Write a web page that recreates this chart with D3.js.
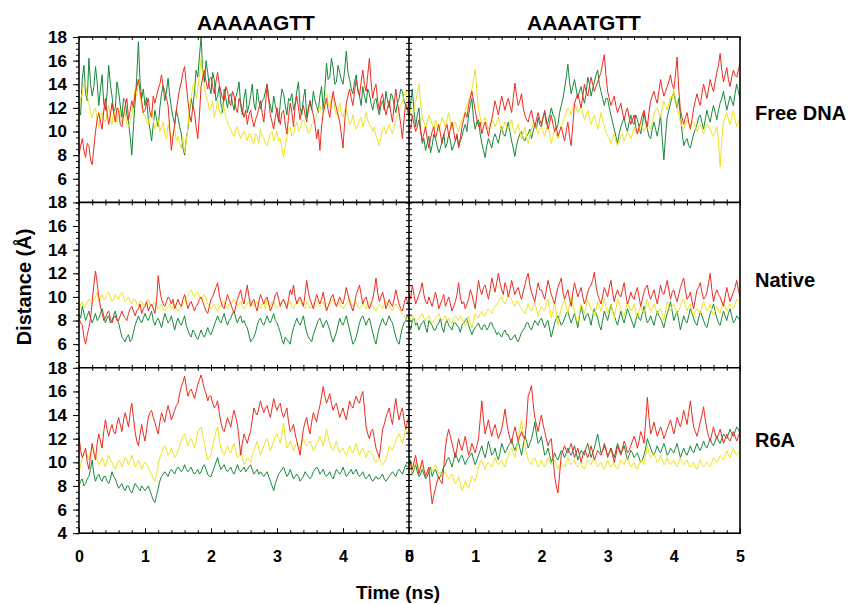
<!DOCTYPE html>
<html>
<head>
<meta charset="utf-8">
<script src="https://cdn.jsdelivr.net/npm/d3@7"></script>
<style>
body { margin: 0; background: #fff; }
text { font-family: Arial, "Liberation Sans", sans-serif; font-weight: bold; fill: #000; }
</style>
</head>
<body>
<svg id="chart" width="851" height="604"></svg>
<script>
// ---- data (distance in Angstrom, one sample every 0.025 ns over 0-5 ns) ----
var colLabels = ["AAAAAGTT", "AAAATGTT"];
var rowLabels = ["Free DNA", "Native", "R6A"];
var timeMax = 5;
var timeTicks = [0, 1, 2, 3, 4, 5];
var distTicks = [6, 8, 10, 12, 14, 16, 18];
var distTicksLast = [4, 6, 8, 10, 12, 14, 16, 18];

// Free DNA, AAAAAGTT
var freeA_green = [12.0,11.4,14.5,15.6,13.2,12.6,16.2,14.0,13.0,13.8,15.5,14.2,12.2,13.6,14.8,12.4,11.8,13.2,15.6,14.0,
  13.0,11.6,12.0,14.2,13.4,12.2,11.2,12.8,12.6,11.4,10.8,9.6,8.0,10.4,12.5,14.6,17.6,14.2,12.8,13.6,
  12.2,12.9,11.0,10.2,9.2,10.6,11.8,11.0,10.4,12.0,13.2,13.9,12.6,13.4,14.5,13.0,12.0,11.2,10.6,11.8,
  11.2,10.4,9.8,8.6,8.0,9.4,10.2,11.6,12.8,12.0,13.5,15.2,14.6,16.4,18.0,15.0,14.2,16.0,15.0,13.8,
  13.2,15.0,14.4,12.6,13.0,13.8,12.4,11.6,13.6,12.8,12.0,13.0,13.2,12.4,11.8,12.9,13.4,14.2,12.2,11.4,
  12.8,13.6,11.6,12.2,13.0,14.0,12.4,11.8,13.6,12.6,11.9,12.6,12.8,13.4,14.0,12.8,12.2,11.6,13.0,12.2,
  11.6,10.8,12.4,13.6,13.2,12.2,11.4,12.8,12.6,13.2,11.8,12.4,13.4,14.2,12.0,11.4,12.8,13.6,11.2,12.0,
  12.6,11.8,13.4,12.6,12.2,11.6,13.0,13.8,11.8,13.6,15.8,14.4,14.6,16.2,15.4,14.0,14.2,15.6,15.0,14.4,
  14.0,15.2,16.8,15.0,14.4,13.6,13.2,14.2,14.8,13.4,13.0,12.2,13.8,13.0,12.4,13.6,13.2,12.4,11.8,12.6,
  12.8,12.0,11.4,12.2,12.6,11.8,13.4,12.6,12.0,13.2,13.0,12.2,11.6,12.4,12.8,13.6,13.4,12.6,12.2,11.8,12.6];
var freeA_red = [8.0,8.8,9.4,8.4,7.8,9.0,8.8,7.6,7.2,8.6,10.0,11.0,11.6,10.8,10.2,11.8,12.8,11.6,10.6,11.4,
  12.4,11.6,10.8,12.0,11.8,10.6,10.4,11.4,12.2,12.8,11.0,11.8,12.6,12.0,13.2,13.8,14.4,13.4,12.6,11.6,
  11.8,12.4,12.8,11.6,11.2,13.0,12.4,13.0,13.6,14.0,14.8,13.8,13.4,12.8,12.2,10.2,8.4,9.6,10.6,11.8,
  12.8,13.6,14.2,15.0,15.5,14.0,12.6,11.4,10.8,12.2,11.6,10.4,9.4,11.4,13.8,14.6,15.2,14.2,13.6,14.4,
  14.6,13.8,13.2,14.2,15.0,14.0,13.4,12.8,12.6,13.8,13.4,12.6,12.2,13.4,13.0,12.0,11.6,12.8,12.4,11.8,
  11.2,11.8,10.6,11.4,11.8,11.0,10.4,11.0,11.4,12.0,12.6,11.6,10.8,12.2,14.0,12.6,11.4,10.8,10.2,11.2,
  12.0,11.2,10.6,11.6,11.8,10.6,9.8,11.2,12.4,11.6,10.4,12.2,13.0,12.0,11.0,11.8,12.2,11.4,10.8,11.8,
  12.6,12.0,11.4,10.6,9.4,10.2,8.4,10.4,11.6,12.2,12.8,11.8,11.2,12.4,13.4,12.6,12.0,11.4,10.8,9.8,
  8.6,10.8,12.4,13.0,13.6,12.8,12.2,13.4,14.4,13.6,13.0,14.2,15.2,14.0,13.4,14.8,16.2,14.2,12.8,13.6,
  14.0,12.6,11.8,12.8,13.2,12.2,11.4,12.0,12.6,11.6,10.8,12.2,13.6,12.4,11.6,10.6,9.4,11.0,12.4,11.8,11.2];
var freeA_yellow = [12.0,12.8,13.2,14.2,14.0,13.0,12.4,11.6,11.2,11.8,12.0,11.0,10.4,11.2,11.6,11.0,10.8,11.6,12.2,11.2,
  10.6,11.8,11.4,10.8,12.0,11.4,10.8,11.2,11.6,10.6,10.4,11.0,11.2,12.4,13.6,13.0,14.4,13.2,12.0,11.4,
  11.4,10.8,10.6,11.4,11.8,11.0,10.2,10.8,11.0,10.0,10.4,10.8,9.8,9.4,10.6,10.0,9.4,9.8,10.2,9.2,
  9.6,9.0,8.6,9.4,8.2,9.2,10.4,12.0,13.0,13.8,14.2,12.8,13.6,14.8,16.3,14.6,13.8,13.0,12.6,11.8,
  12.0,12.6,11.2,11.8,12.6,11.8,11.4,12.2,12.0,11.2,10.8,10.4,10.2,9.8,9.6,10.2,10.4,9.8,9.4,9.8,
  10.0,9.6,9.2,9.8,9.8,9.2,9.0,9.8,9.6,9.0,10.2,9.6,9.4,9.0,8.8,9.4,9.8,10.0,9.2,9.6,
  10.0,9.2,9.4,8.6,7.8,8.8,9.6,10.2,10.4,9.6,9.8,10.4,10.8,10.0,10.2,10.8,11.0,10.6,10.4,9.8,
  10.0,10.6,10.8,11.2,11.4,11.8,12.2,11.6,11.6,12.4,13.2,12.4,12.0,13.0,12.8,12.0,11.4,11.8,12.4,11.6,
  11.2,11.8,12.0,11.2,10.6,10.8,11.4,10.6,10.2,10.6,11.0,11.2,10.4,10.8,11.6,11.0,10.6,10.4,10.0,10.4,
  9.6,9.2,8.8,9.6,10.2,10.4,9.8,10.2,10.6,10.2,9.8,10.4,11.0,11.4,11.8,12.2,12.6,13.0,13.4,12.4,11.6];

// Free DNA, AAAATGTT
var freeB_green = [11.2,12.4,13.6,11.8,10.4,11.4,12.0,10.2,9.0,9.4,8.4,9.0,9.6,8.2,8.8,9.8,9.4,8.8,8.2,8.6,
  9.2,9.8,8.6,9.0,9.8,9.2,8.4,8.8,9.2,9.6,8.8,9.2,9.6,10.2,10.6,10.0,11.4,12.2,12.8,11.0,
  10.2,10.8,11.0,9.8,9.0,8.4,7.8,8.8,9.4,9.0,8.6,9.4,9.8,9.4,9.0,9.8,10.4,9.8,9.6,10.2,
  10.8,10.0,9.2,8.6,7.9,8.8,9.4,9.8,10.0,9.4,9.2,9.6,9.8,10.2,9.4,10.0,10.6,10.2,11.2,10.6,
  10.4,11.2,11.6,10.6,10.8,11.4,12.0,11.4,11.2,10.2,10.6,11.6,12.2,12.8,13.6,14.6,15.7,14.2,13.2,13.8,
  14.4,13.6,12.8,13.4,13.8,13.0,12.4,13.2,14.6,14.0,13.0,13.6,14.2,14.8,15.2,14.0,13.4,12.8,12.2,12.8,
  12.8,12.0,11.4,10.8,10.2,9.6,9.0,9.8,10.4,10.8,11.2,10.4,10.0,10.8,11.4,10.8,10.6,11.4,11.0,10.4,
  9.8,10.6,11.6,10.8,10.2,9.6,9.4,10.2,10.8,10.2,9.6,10.4,11.4,9.4,7.6,9.6,11.2,11.8,12.4,13.0,
  13.2,12.6,12.0,12.8,11.4,10.0,8.8,9.2,9.4,8.8,8.6,9.2,9.8,10.2,10.6,11.2,11.4,10.8,10.2,11.0,
  11.8,11.2,10.8,11.6,12.2,11.6,11.0,11.8,12.4,12.8,13.4,12.6,11.8,12.4,13.0,12.6,12.2,13.2,14.0,13.4,12.8];
var freeB_red = [10.6,10.2,11.4,10.6,10.0,10.4,11.0,10.0,9.2,9.8,10.4,9.4,8.6,9.4,10.0,10.4,9.4,10.0,10.6,9.8,
  9.0,9.6,10.2,10.6,9.6,10.2,10.8,10.0,9.2,9.8,8.6,9.4,10.4,11.0,11.6,11.2,12.2,12.8,13.4,12.6,
  11.8,11.0,10.4,10.8,9.8,10.4,10.8,10.2,9.6,10.4,11.0,11.8,12.6,12.0,11.4,12.2,13.0,12.4,11.8,12.4,
  12.8,12.2,11.6,12.8,14.1,13.0,12.2,12.6,13.2,12.0,11.4,11.0,10.8,11.4,11.8,11.0,10.4,11.0,11.6,11.0,
  10.6,11.2,11.8,11.0,10.2,10.8,11.4,10.6,10.0,10.4,9.6,10.0,10.4,9.8,9.2,10.0,10.8,9.6,8.8,10.6,
  12.4,12.8,13.2,12.6,12.0,13.0,14.0,13.4,13.0,13.8,14.6,14.0,13.4,13.8,14.2,14.6,15.0,15.8,16.5,14.8,
  13.4,12.8,12.2,12.6,13.0,12.2,11.6,12.0,12.4,11.6,11.0,11.6,12.0,11.2,10.6,11.0,11.4,10.4,9.8,10.4,
  10.8,11.4,11.8,11.0,10.4,11.6,12.6,13.0,13.4,12.8,12.4,13.4,14.4,13.6,13.0,13.4,13.8,14.2,14.8,14.0,
  13.6,14.8,16.3,13.6,11.8,11.2,10.6,11.2,11.6,10.8,10.2,11.0,12.0,12.6,13.2,12.6,12.2,13.2,14.0,13.4,
  12.8,13.6,14.4,13.8,13.4,14.2,15.0,15.6,16.6,15.2,14.2,14.8,15.4,14.4,13.8,14.6,15.2,14.8,14.6,15.2,15.8];
var freeB_yellow = [12.2,11.6,11.0,11.8,12.6,13.2,14.0,12.4,11.2,10.8,10.2,10.8,11.4,11.0,10.6,10.2,11.0,10.4,10.0,10.6,
  11.2,10.8,10.4,11.0,11.6,10.8,10.2,10.6,10.8,10.4,10.0,10.6,11.0,11.4,11.8,12.2,12.6,13.0,13.6,14.4,
  15.3,13.4,12.0,11.2,10.6,10.8,11.2,10.6,10.2,10.6,11.0,10.8,10.4,10.8,11.2,10.6,10.0,10.4,10.8,10.4,
  10.2,10.6,11.0,10.2,9.8,10.2,10.6,10.0,9.4,9.8,10.4,9.6,9.0,9.6,10.2,10.6,10.8,10.2,9.8,10.2,
  10.4,10.0,9.6,10.2,10.6,9.8,9.0,9.6,10.2,9.8,9.4,10.0,10.6,10.8,11.2,11.6,12.0,11.8,11.4,12.0,
  12.4,12.0,11.6,11.8,12.2,11.6,11.0,11.4,11.8,11.2,10.6,11.0,11.4,10.8,10.2,10.8,11.6,11.0,10.4,10.0,
  9.6,9.4,9.0,9.4,9.8,9.2,8.8,9.2,9.6,9.8,9.2,9.6,10.0,9.8,9.4,9.8,10.4,10.0,9.8,10.2,
  10.6,10.4,10.0,10.4,10.8,10.6,10.2,10.8,11.4,11.8,12.0,11.6,11.2,12.0,12.6,12.2,11.8,12.4,13.0,12.8,
  13.5,12.8,12.2,11.4,10.8,10.4,10.2,10.6,11.0,10.6,10.4,10.8,10.8,10.4,10.0,10.4,10.6,10.2,9.8,10.2,
  10.6,10.4,10.2,9.8,9.6,10.0,10.4,9.2,7.0,9.4,10.8,11.2,11.6,11.0,10.6,11.2,11.8,11.0,10.4,10.8,11.2];

// Native, AAAAAGTT
var nativeA_green = [8.6,8.2,9.2,8.6,8.0,8.4,8.8,8.2,7.8,8.2,8.6,8.0,8.2,8.6,9.0,8.4,7.8,8.2,8.4,7.8,
  8.0,8.4,8.8,8.2,7.8,7.2,6.6,6.4,6.2,6.6,6.8,6.2,6.4,7.0,7.6,8.0,8.4,8.0,7.8,8.2,
  8.6,8.2,8.0,8.4,8.8,8.0,7.6,8.0,8.2,7.8,7.4,8.0,8.6,8.2,7.8,8.0,8.4,7.8,7.2,7.8,
  8.2,7.8,7.6,8.0,8.4,7.6,7.2,6.8,6.6,7.2,7.0,6.6,6.4,6.8,7.2,6.8,6.6,7.0,7.4,7.0,
  6.8,7.2,7.6,8.0,8.4,8.0,7.8,8.2,8.6,8.0,7.6,8.0,8.2,8.6,8.8,8.2,7.8,8.2,8.4,7.8,
  8.0,7.6,7.4,6.8,6.2,6.4,6.6,7.0,7.6,8.0,8.2,7.8,7.6,8.0,8.4,8.0,7.8,8.2,8.6,8.0,
  7.8,7.4,7.0,6.4,6.0,6.6,6.4,6.2,6.0,6.8,7.4,7.8,8.2,7.8,7.6,8.0,8.4,7.6,7.0,6.6,
  6.4,6.2,6.8,7.2,7.6,8.0,8.2,7.8,7.4,7.8,8.0,7.6,7.2,6.6,6.2,6.6,7.0,7.6,8.2,7.8,
  7.6,8.0,8.4,7.8,7.2,6.6,6.0,6.2,6.6,7.2,7.8,8.2,8.4,8.0,7.6,8.0,8.2,7.6,7.0,6.4,
  6.0,6.8,7.4,7.8,8.2,7.8,7.6,8.0,8.4,8.0,7.8,7.2,6.6,6.2,6.0,6.8,7.4,7.8,8.0,8.4,8.2];
var nativeA_red = [8.2,7.8,7.6,6.6,6.0,6.8,7.4,8.2,9.6,11.0,12.2,11.2,10.0,9.2,8.6,8.0,8.2,8.6,8.8,8.2,
  7.8,8.2,8.4,8.0,8.0,8.4,8.8,8.4,8.2,8.0,8.6,9.0,9.2,8.8,8.4,8.8,9.0,9.4,8.6,9.0,
  9.2,9.6,8.8,9.2,9.4,9.0,8.6,9.6,11.8,10.6,9.8,9.4,9.2,9.6,10.0,9.8,9.4,9.8,9.0,9.4,
  9.8,9.4,9.2,9.8,10.2,9.6,9.0,9.4,9.6,9.2,8.8,9.2,9.4,9.8,10.0,9.6,9.2,8.8,8.6,9.2,
  9.8,10.0,10.4,10.8,11.2,10.2,9.6,9.2,9.0,9.6,10.2,9.8,9.4,9.0,8.6,9.2,9.8,10.2,10.6,9.8,
  9.4,10.2,11.0,10.0,9.2,9.6,9.8,9.2,8.8,9.6,10.2,9.8,9.4,9.8,10.0,9.4,8.8,9.2,9.6,10.2,
  10.4,9.8,9.2,9.6,9.8,9.4,9.0,9.8,10.6,10.2,11.0,10.0,9.4,9.8,10.0,9.6,9.2,10.2,11.4,10.4,
  9.8,9.4,9.0,9.6,10.2,9.8,9.4,9.8,10.4,9.6,8.8,9.2,9.6,10.0,10.2,9.6,9.2,9.6,10.0,9.6,
  9.4,10.0,10.8,10.2,9.6,9.2,8.8,9.4,10.2,10.6,11.0,10.2,9.4,9.8,10.0,9.4,9.0,9.4,9.8,10.6,
  11.6,10.4,9.6,10.0,10.4,9.8,9.0,9.4,9.8,9.4,9.2,9.8,10.6,10.0,9.4,9.0,8.8,9.4,10.0,9.6,9.2];
var nativeA_yellow = [9.0,9.4,9.6,9.0,9.2,9.6,9.8,9.6,9.4,9.8,10.0,10.4,9.6,9.8,10.2,9.8,9.8,10.2,10.4,10.0,
  9.6,9.8,10.2,10.0,9.8,10.2,10.4,10.0,9.6,9.8,10.0,9.6,9.4,9.8,9.8,9.4,9.2,9.6,9.6,9.2,
  9.4,9.6,9.8,9.4,9.2,9.4,9.6,9.2,9.0,9.2,9.4,9.0,8.8,9.0,9.2,9.4,9.0,9.2,9.4,9.0,
  8.8,9.0,9.2,9.4,9.6,10.0,10.2,10.4,10.6,10.2,10.0,10.4,10.4,10.0,9.8,10.0,10.2,9.8,9.4,9.2,
  9.0,9.2,9.4,9.0,8.8,9.2,9.2,9.6,9.6,9.2,9.0,9.4,9.4,9.6,9.8,9.4,9.2,9.4,9.6,9.2,
  9.0,9.2,9.4,9.6,9.8,9.4,9.2,9.4,9.6,9.2,9.0,9.4,9.4,9.0,9.8,9.4,9.2,9.6,9.6,9.2,
  9.0,9.2,9.4,9.6,9.8,9.4,9.2,9.4,9.6,9.2,9.0,9.4,9.4,9.6,9.8,9.4,9.2,9.0,9.6,9.4,
  9.0,9.2,9.4,9.6,9.8,9.4,9.2,9.4,9.6,9.2,9.0,9.2,9.4,9.6,9.8,9.4,9.2,9.4,9.6,9.2,
  9.0,9.2,9.4,9.6,9.8,9.4,9.2,9.4,9.6,9.2,9.0,9.2,9.4,9.2,9.0,9.4,9.6,9.4,9.2,9.0,
  8.8,9.2,9.4,9.2,9.0,9.4,9.6,9.4,9.2,9.0,8.8,9.2,9.4,9.2,9.0,8.8,8.6,8.4,8.2,8.0,8.0];

// Native, AAAATGTT
var nativeB_green = [7.6,7.2,8.0,8.2,7.6,7.8,7.2,7.6,7.8,8.0,7.4,7.0,8.0,7.8,7.6,7.2,7.2,7.6,7.8,8.2,
  7.4,7.0,7.8,8.0,7.6,7.4,7.2,7.8,7.8,7.6,7.4,7.0,7.6,7.8,8.0,8.2,7.6,7.2,6.8,7.2,
  7.4,7.6,7.8,7.4,7.2,7.6,7.6,7.2,7.4,7.8,7.8,7.4,7.2,6.8,7.0,6.8,6.6,7.0,7.2,6.8,
  6.8,6.4,6.4,6.6,6.8,6.4,6.2,6.6,7.0,7.2,7.4,7.8,7.8,7.4,7.2,7.6,8.0,7.8,7.6,8.0,
  8.2,7.8,7.4,7.8,8.0,7.2,6.6,7.2,7.8,8.2,8.4,8.0,7.6,7.8,8.2,8.6,8.8,8.2,7.8,8.2,
  8.6,8.0,7.4,8.4,9.2,8.6,8.0,8.4,8.6,8.2,7.6,8.4,9.0,8.6,8.2,7.6,7.2,8.0,8.8,8.4,
  8.0,8.6,9.4,8.8,8.4,8.0,7.6,8.2,8.8,8.2,7.8,8.4,9.0,8.6,8.2,7.8,7.4,8.0,8.6,8.2,
  8.0,8.6,9.2,8.4,7.8,8.0,8.4,8.0,7.6,8.2,8.8,8.4,8.2,7.8,7.4,8.0,8.6,9.0,9.6,8.8,
  8.0,8.4,8.8,8.0,7.2,7.8,8.4,8.0,7.8,8.4,9.0,8.6,8.2,7.8,7.6,8.2,8.8,8.4,8.0,7.6,
  7.4,8.0,8.6,9.0,9.4,8.8,8.2,7.8,7.6,8.2,8.8,8.4,8.0,8.6,9.0,8.4,7.8,8.0,8.4,8.2,8.0];
var nativeB_red = [10.4,9.8,11.0,10.2,9.4,9.8,10.2,10.6,11.2,10.2,9.6,9.4,10.0,9.6,9.2,9.8,10.4,9.8,9.0,9.4,
  9.8,10.2,9.2,9.6,10.0,9.4,8.8,9.2,9.6,10.2,11.2,10.0,9.4,9.6,9.0,9.4,9.8,10.6,10.2,9.6,
  9.0,10.2,11.4,10.6,10.2,10.8,11.0,10.4,9.8,10.6,11.6,11.0,10.4,11.2,12.0,11.2,10.6,10.2,11.2,10.8,
  10.0,10.6,11.4,10.8,10.2,10.6,10.8,10.2,9.8,10.4,11.0,11.6,12.0,11.0,10.4,10.0,9.6,10.4,11.2,10.6,
  10.6,10.2,9.8,10.6,11.4,10.8,10.2,9.8,9.4,10.2,10.8,11.2,11.6,10.4,9.8,10.2,10.6,9.8,9.2,10.4,
  11.2,10.6,10.0,10.4,10.8,10.0,9.4,9.8,10.4,10.8,11.0,11.4,12.1,11.0,10.2,9.8,9.4,10.0,10.8,10.4,
  10.0,10.8,11.4,10.4,9.6,10.2,10.6,10.2,10.0,10.6,11.2,10.2,9.4,9.8,10.4,10.0,9.8,10.4,10.8,10.0,
  9.2,9.8,10.4,10.8,11.0,10.2,9.8,10.2,10.6,10.0,9.4,10.2,11.0,10.4,10.2,10.8,11.4,10.6,9.8,10.4,
  10.6,10.0,9.6,10.2,10.8,11.2,11.6,10.6,9.8,10.0,10.4,9.6,9.0,9.8,10.6,10.8,11.2,10.4,9.8,10.0,
  10.4,11.2,12.0,10.6,9.6,10.2,10.6,10.2,10.0,9.6,9.2,10.0,10.8,10.2,9.6,10.0,10.4,10.8,11.4,10.6,10.0];
var nativeB_yellow = [8.0,8.2,8.4,8.0,7.8,8.0,8.2,8.4,8.6,8.2,8.0,8.2,8.4,8.0,7.8,8.0,8.2,8.4,8.6,8.2,
  8.0,8.2,8.4,8.0,8.2,7.8,7.8,8.2,8.4,8.2,8.0,8.4,8.2,7.8,7.6,8.0,8.4,7.8,7.4,8.0,
  8.6,8.4,8.2,8.6,8.8,8.4,8.4,8.8,9.0,8.8,8.6,9.0,9.2,9.4,9.6,9.8,10.0,9.6,9.4,9.8,
  10.2,10.0,9.8,9.4,9.2,9.6,9.6,9.2,9.0,8.8,8.6,9.0,9.4,9.0,8.8,9.2,9.6,9.0,8.4,8.8,
  9.2,9.0,8.8,9.4,9.8,9.0,8.2,8.8,9.6,8.6,7.6,8.4,9.0,9.4,9.8,9.2,8.6,9.4,10.0,9.4,
  8.8,8.2,7.8,8.6,9.4,9.0,8.6,9.2,9.8,9.4,9.0,8.8,8.4,9.0,9.6,9.2,8.8,9.4,9.8,9.2,
  8.6,9.0,9.4,8.8,8.2,9.0,9.8,9.4,9.0,8.6,8.4,9.0,9.6,9.2,8.8,9.0,9.4,8.8,8.2,8.8,
  9.2,8.8,8.6,9.2,9.8,9.2,8.8,9.0,9.4,9.0,8.6,8.8,9.0,8.6,8.0,8.8,9.6,9.2,8.8,9.2,
  9.4,9.0,8.6,8.8,9.2,9.6,9.8,9.2,8.8,9.2,9.4,8.8,8.4,8.8,9.0,8.8,8.6,9.2,9.6,9.2,
  8.8,9.0,9.4,8.8,8.4,8.8,9.2,8.8,8.6,9.2,9.6,9.2,8.8,9.2,9.4,9.2,9.0,9.4,9.8,9.6,9.4];

// R6A, AAAAAGTT
var r6aA_green = [8.0,8.4,8.6,8.0,8.2,8.6,8.8,9.4,10.2,9.0,8.4,8.8,9.0,8.6,8.4,8.8,8.8,8.4,8.2,8.6,
  9.2,8.8,8.6,8.2,7.8,8.0,8.2,7.8,7.6,8.0,8.0,7.6,7.4,7.8,8.2,8.0,7.8,7.6,8.0,7.8,
  7.6,7.8,8.0,7.6,7.2,6.8,6.6,7.2,7.8,8.4,8.8,9.0,9.2,9.0,8.8,9.2,9.4,9.2,9.0,9.4,
  9.6,9.4,9.2,9.4,9.8,9.4,9.2,9.4,9.6,9.2,9.0,9.2,9.4,9.0,9.2,9.6,9.8,9.4,9.0,8.8,
  8.8,9.2,9.6,10.0,10.4,9.8,9.4,9.6,9.8,9.4,9.2,9.4,9.6,9.2,9.0,9.4,9.8,9.4,9.2,9.4,
  9.6,9.2,9.4,9.6,9.8,9.4,9.0,9.2,9.4,9.0,9.2,9.0,8.8,9.0,9.2,8.8,8.4,8.0,7.6,8.2,
  8.6,9.0,9.2,9.4,9.6,9.2,8.8,9.0,9.4,9.0,8.6,8.8,9.0,8.8,8.4,8.6,8.8,9.2,9.0,8.8,
  8.6,8.8,9.2,9.4,9.6,9.4,9.0,9.2,9.4,9.0,8.8,9.0,9.2,8.8,8.6,9.0,9.4,9.2,9.0,9.2,
  9.6,9.2,8.8,9.0,9.2,9.4,9.0,9.2,9.4,9.0,8.8,9.0,9.2,8.8,8.6,8.8,9.0,8.6,8.4,8.6,
  8.8,8.6,8.6,8.8,9.0,8.6,8.4,8.6,8.8,9.0,9.2,9.0,8.8,9.2,9.4,9.2,9.0,9.4,9.8,9.6,9.6];
var r6aA_red = [12.2,11.0,10.4,10.8,11.2,10.0,9.4,10.6,11.6,10.8,10.2,11.6,12.4,11.8,11.2,12.6,13.6,12.8,12.2,12.8,
  13.2,12.6,12.4,13.2,13.8,13.2,12.6,13.6,14.2,13.6,13.0,14.2,15.0,13.8,12.6,11.8,11.4,12.4,13.2,12.4,
  11.8,12.8,13.8,14.2,14.4,13.8,13.4,12.8,12.4,13.4,14.2,13.8,13.4,14.2,14.8,14.2,13.6,14.0,14.4,14.8,
  15.0,15.8,16.4,16.8,17.3,16.4,15.6,16.0,16.2,15.8,15.4,16.0,16.6,17.0,17.4,16.8,16.2,15.8,15.2,15.6,
  15.6,15.0,14.6,14.8,15.2,14.2,13.4,12.8,12.6,13.2,13.8,13.4,13.0,13.8,14.4,13.8,13.2,12.0,10.6,11.6,
  12.4,12.0,11.6,12.2,12.6,13.6,14.6,14.2,14.0,14.6,15.2,14.6,14.2,14.6,14.8,14.2,13.8,14.6,15.4,14.8,
  14.4,14.8,15.0,14.2,13.8,14.2,14.6,13.4,12.6,12.8,13.2,12.4,11.8,11.2,10.6,11.8,12.8,13.4,13.8,13.0,
  12.4,13.4,14.2,13.8,13.4,14.2,14.8,15.6,16.4,15.6,15.0,15.4,15.8,15.0,14.4,14.8,15.0,14.4,13.8,14.2,
  14.6,14.0,13.6,14.4,15.2,14.8,14.6,15.2,15.6,15.2,15.0,15.6,16.0,14.6,13.0,12.4,12.0,12.6,12.8,12.0,
  11.2,10.8,10.4,11.6,12.8,13.2,13.8,14.2,14.6,13.8,13.2,14.4,15.4,14.4,13.6,14.2,14.6,13.6,12.8,13.4,14.0];
var r6aA_yellow = [9.0,9.8,10.4,10.8,11.0,10.6,10.2,10.8,11.4,11.0,10.6,10.2,9.8,10.0,10.4,10.0,9.6,10.2,10.6,10.2,
  10.0,9.6,9.4,9.8,10.2,10.0,9.6,10.0,10.4,10.2,9.8,10.2,10.6,10.2,9.6,9.8,10.2,9.8,9.4,9.8,
  10.0,9.8,9.6,9.2,9.0,8.6,8.4,9.0,9.8,10.4,10.8,11.2,11.4,11.0,10.6,10.8,11.2,10.8,10.4,10.6,
  11.0,11.4,11.8,12.2,12.4,11.8,11.4,11.8,12.0,11.6,11.2,11.8,12.6,12.8,13.0,12.2,11.6,10.8,10.2,10.4,
  10.6,11.4,12.0,12.6,13.0,12.0,11.2,10.8,10.6,11.0,11.4,11.0,10.8,11.2,11.6,11.0,10.4,10.6,11.0,10.4,
  9.8,10.0,10.4,10.2,10.0,10.6,11.0,11.4,11.8,11.2,10.6,11.0,11.4,11.8,12.0,11.4,11.0,11.4,11.8,12.2,
  12.4,12.0,11.6,12.4,13.3,12.2,11.2,11.4,11.8,11.4,11.0,11.4,11.6,11.4,11.2,11.6,12.0,11.6,11.4,11.6,
  11.8,11.4,11.0,11.2,11.6,11.8,12.2,11.8,11.4,12.0,12.8,12.2,11.6,11.2,11.0,11.4,11.8,11.2,10.8,11.0,
  11.2,10.8,10.6,11.0,11.4,11.0,10.8,11.2,11.6,11.0,10.6,11.0,11.2,10.8,10.4,10.8,11.0,10.8,10.6,10.2,
  10.0,10.2,10.4,10.0,9.8,10.0,10.2,10.8,11.4,11.2,11.0,11.4,11.8,12.2,12.4,12.0,11.6,12.2,12.8,12.6,12.2];

// R6A, AAAATGTT
var r6aB_green = [9.6,10.2,9.0,9.4,9.8,9.2,8.8,9.0,9.4,9.0,8.6,8.8,9.2,9.6,8.8,9.2,9.4,9.0,8.6,8.8,
  9.2,9.6,9.8,10.2,10.4,10.0,9.6,10.2,10.8,10.4,10.0,10.4,10.6,10.2,9.8,10.2,10.4,10.6,10.8,10.2,
  9.8,10.2,10.6,11.0,11.4,10.8,10.4,11.0,11.8,11.2,10.6,10.8,11.2,10.6,10.2,10.8,11.6,11.2,10.8,11.0,
  11.4,11.6,12.0,11.4,11.0,11.4,11.8,11.2,10.6,11.4,12.2,11.8,11.2,11.6,12.0,12.6,13.4,12.4,11.6,11.8,
  12.2,11.4,10.6,10.8,11.2,10.6,10.0,10.4,10.8,10.4,10.2,10.6,11.0,10.8,10.4,10.8,11.2,10.8,10.6,11.0,
  11.4,10.8,10.2,10.6,11.0,10.8,10.6,11.2,11.6,11.0,10.4,10.8,11.2,11.8,12.4,11.6,10.8,11.0,11.4,11.0,
  10.6,10.8,11.2,10.8,10.4,11.0,11.6,11.2,10.8,11.0,11.4,10.8,10.2,10.6,11.0,10.8,10.4,10.6,10.8,10.4,
  10.0,10.2,10.6,11.2,12.0,11.6,11.2,10.8,10.6,11.0,11.4,11.0,10.8,11.2,11.6,11.2,10.6,10.8,11.2,11.0,
  10.8,11.2,11.6,11.0,10.4,10.8,11.2,10.8,10.6,11.0,11.4,11.0,10.8,11.2,11.6,11.2,11.0,11.4,11.8,11.4,
  11.2,11.6,12.0,11.6,11.4,11.8,12.2,11.8,11.6,12.0,12.4,12.2,12.0,12.4,12.8,12.4,12.2,12.6,13.0,12.8,12.4];
var r6aB_red = [10.2,9.8,9.4,10.0,10.6,9.8,9.0,9.6,10.2,9.4,8.8,9.2,9.6,7.8,6.5,7.2,7.8,8.4,8.8,8.4,
  8.2,9.6,11.2,12.2,12.8,12.2,11.6,11.0,10.4,11.2,12.0,11.4,11.0,11.6,12.2,11.4,10.6,11.0,11.6,11.2,
  10.8,11.4,12.0,13.6,15.2,13.6,12.4,13.0,13.6,12.8,12.2,12.8,13.2,12.6,12.0,12.4,12.8,13.6,14.5,13.4,
  12.6,12.0,11.6,12.4,13.0,12.4,11.8,12.2,12.6,12.2,12.0,13.4,15.6,16.0,16.5,15.0,13.8,13.2,12.6,13.4,
  14.0,13.2,12.6,12.0,11.4,11.8,12.0,10.4,8.8,8.0,7.4,9.0,10.6,11.0,11.4,11.0,10.8,11.2,11.6,11.0,
  10.4,10.8,11.2,10.6,10.0,10.6,11.0,10.8,10.4,10.8,11.4,10.8,10.2,10.6,11.0,10.8,10.6,11.0,11.6,11.2,
  10.4,10.8,11.2,10.6,10.0,10.6,11.4,11.0,10.6,11.2,11.8,11.4,10.8,11.0,11.4,11.8,12.2,11.8,11.2,11.8,
  12.6,12.2,11.6,13.4,15.5,13.8,12.4,12.8,13.4,12.8,12.2,12.6,13.0,12.6,12.0,12.4,12.8,13.2,13.6,13.0,
  12.4,13.0,13.8,13.4,13.0,13.6,14.4,13.8,13.2,14.2,15.2,14.0,13.0,12.6,12.2,12.8,13.4,14.0,14.7,13.6,
  12.8,12.2,11.8,12.4,13.0,12.4,12.0,12.4,12.8,12.2,11.6,12.0,12.4,12.0,11.8,12.2,12.6,12.2,11.8,12.2,12.6];
var r6aB_yellow = [9.8,9.4,9.2,9.6,10.0,9.8,9.4,9.6,9.8,9.4,9.0,9.2,9.6,9.4,9.2,9.6,9.8,9.4,9.0,9.2,
  8.8,9.0,9.2,8.8,8.6,8.8,9.0,8.6,8.2,8.4,8.8,8.2,7.6,8.0,8.4,8.0,7.8,8.4,8.8,8.6,
  8.4,9.0,9.6,10.0,10.2,9.8,9.4,9.8,10.0,9.8,9.6,10.0,10.4,10.0,9.8,10.0,10.2,9.8,9.6,10.2,
  10.6,11.0,11.2,10.8,10.4,11.2,12.0,12.8,13.6,12.4,11.4,10.8,10.2,10.0,9.8,10.2,10.4,10.0,9.6,9.8,
  10.2,9.8,9.6,10.0,10.4,10.0,9.8,10.0,10.2,9.8,9.4,9.8,10.0,9.8,9.6,10.0,10.4,10.0,9.8,10.0,
  10.2,9.8,9.6,9.8,10.0,9.6,9.4,9.8,10.2,10.0,9.8,10.2,10.4,10.0,9.6,9.8,10.0,9.6,9.4,9.8,
  10.2,9.8,9.6,9.8,10.0,9.6,9.4,9.8,10.2,10.0,9.8,10.2,10.4,10.0,9.6,9.8,10.0,9.6,9.4,9.8,
  10.2,10.0,9.8,10.6,11.4,10.8,10.4,10.6,10.8,10.4,10.0,10.2,10.6,10.2,9.8,10.0,10.4,10.0,9.8,10.0,
  10.2,9.8,9.6,10.0,10.4,10.0,9.8,10.0,10.2,9.8,9.6,9.8,10.0,9.6,9.4,9.8,10.2,9.8,9.6,9.8,
  10.0,9.8,9.6,10.0,10.4,10.2,10.0,10.2,10.6,10.4,10.2,10.6,11.0,10.6,10.4,10.8,11.2,10.8,10.6,10.8,11.0];

var panels = [
  [{green: freeA_green, yellow: freeA_yellow, red: freeA_red}, {green: freeB_green, yellow: freeB_yellow, red: freeB_red}],
  [{green: nativeA_green, yellow: nativeA_yellow, red: nativeA_red}, {green: nativeB_green, yellow: nativeB_yellow, red: nativeB_red}],
  [{green: r6aA_green, yellow: r6aA_yellow, red: r6aA_red}, {green: r6aB_green, yellow: r6aB_yellow, red: r6aB_red}]
];
var drawOrder = ["green", "yellow", "red"];
var lineColors = {green: "#17883a", yellow: "#eee31b", red: "#ec2b1f"};

// ---- layout ----
var svg = d3.select("#chart");
var colX = [79, 409, 740];
var top0 = 37, rowH = 165.4;

function xScale(c) { return d3.scaleLinear().domain([0, timeMax]).range([colX[c], colX[c + 1]]); }
function yScale(r) { return d3.scaleLinear().domain([4, 18]).range([top0 + (r + 1) * rowH, top0 + r * rowH]); }

var minorX = d3.range(0, 5.001, 0.2);
var minorY = d3.range(4, 18.001, 0.5);

for (var r = 0; r < 3; r++) {
  for (var c = 0; c < 2; c++) {
    var x = xScale(c), y = yScale(r);
    var id = "clip" + r + c;
    svg.append("clipPath").attr("id", id).append("rect")
       .attr("x", colX[c]).attr("y", top0 + r * rowH)
       .attr("width", colX[c + 1] - colX[c]).attr("height", rowH);
    var g = svg.append("g").attr("clip-path", "url(#" + id + ")");
    drawOrder.forEach(function(key) {
      var vals = panels[r][c][key];
      var step = timeMax / (vals.length - 1);
      var line = d3.line().x(function(d, i) { return x(i * step); }).y(function(d) { return y(d); });
      g.append("path").datum(vals)
       .attr("d", line)
       .attr("fill", "none")
       .attr("stroke", lineColors[key])
       .attr("stroke-width", 1)
       .attr("stroke-linejoin", "round");
    });

    // inward time ticks on top and bottom edge of every panel
    var tTop = svg.append("g").attr("transform", "translate(0," + (top0 + r * rowH) + ")")
      .call(d3.axisTop(x).tickValues(minorX).tickSizeInner(-3).tickSizeOuter(0).tickFormat(""));
    var tBot = svg.append("g").attr("transform", "translate(0," + (top0 + (r + 1) * rowH) + ")")
      .call(d3.axisBottom(x).tickValues(minorX).tickSizeInner(-3).tickSizeOuter(0).tickFormat(""));
    [tTop, tBot].forEach(function(a) {
      a.select(".domain").remove();
      a.selectAll("line").attr("stroke", "#000").attr("stroke-width", 1);
    });

    // distance ticks on left edge of panel
    var yt = svg.append("g").attr("transform", "translate(" + colX[c] + ",0)")
      .call(d3.axisLeft(y).tickValues(minorY).tickSizeInner(3).tickSizeOuter(0).tickFormat(""));
    yt.select(".domain").remove();
    yt.selectAll("line").attr("stroke", "#000").attr("stroke-width", 1);
    if (c == 1) {
      var yt2 = svg.append("g").attr("transform", "translate(" + colX[c] + ",0)")
        .call(d3.axisRight(y).tickValues(minorY).tickSizeInner(3).tickSizeOuter(0).tickFormat(""));
      yt2.select(".domain").remove();
      yt2.selectAll("line").attr("stroke", "#000").attr("stroke-width", 1);
    }
  }

  // distance labels
  var yl = svg.append("g").attr("transform", "translate(" + colX[0] + ",0)")
    .call(d3.axisLeft(yScale(r)).tickValues(r == 2 ? distTicksLast : distTicks)
      .tickSizeInner(6).tickSizeOuter(0).tickPadding(6).tickFormat(d3.format("d")));
  yl.select(".domain").remove();
  yl.selectAll("line").attr("stroke", "#000").attr("stroke-width", 1);
  yl.selectAll("text").attr("font-size", 17).style("font-family", "Arial, 'Liberation Sans', sans-serif").style("font-weight", "bold");

  svg.append("text").attr("x", 755).attr("y", [120, 287, 447][r])
     .attr("font-size", 20).text(rowLabels[r]);
}

// time labels
for (var c = 0; c < 2; c++) {
  var xl = svg.append("g").attr("transform", "translate(0," + (top0 + 3 * rowH) + ")")
    .call(d3.axisBottom(xScale(c)).tickValues(timeTicks).tickSizeInner(-5).tickSizeOuter(0).tickPadding(17).tickFormat(d3.format("d")));
  xl.select(".domain").remove();
  xl.selectAll("line").attr("stroke", "#000").attr("stroke-width", 1);
  xl.selectAll("text").attr("font-size", 16).style("font-family", "Arial, 'Liberation Sans', sans-serif").style("font-weight", "bold");
}

// frame
var bottom = top0 + 3 * rowH;
svg.append("rect").attr("x", colX[0]).attr("y", top0).attr("width", colX[2] - colX[0]).attr("height", bottom - top0)
   .attr("fill", "none").attr("stroke", "#000").attr("stroke-width", 1.6);
svg.append("line").attr("x1", colX[1]).attr("x2", colX[1]).attr("y1", top0).attr("y2", bottom)
   .attr("stroke", "#000").attr("stroke-width", 1.6);
[1, 2].forEach(function(k) {
  svg.append("line").attr("x1", colX[0]).attr("x2", colX[2]).attr("y1", top0 + k * rowH).attr("y2", top0 + k * rowH)
     .attr("stroke", "#000").attr("stroke-width", 1.6);
});

// titles
svg.append("text").attr("x", 256).attr("y", 30).attr("text-anchor", "middle").attr("font-size", 21).text(colLabels[0]);
svg.append("text").attr("x", 584).attr("y", 30).attr("text-anchor", "middle").attr("font-size", 21).text(colLabels[1]);
svg.append("text").attr("x", 398).attr("y", 599).attr("text-anchor", "middle").attr("font-size", 19).text("Time (ns)");
svg.append("text").attr("transform", "translate(31,287) rotate(-90)").attr("text-anchor", "middle")
   .attr("font-size", 20).text("Distance (Å)");
</script>
</body>
</html>
